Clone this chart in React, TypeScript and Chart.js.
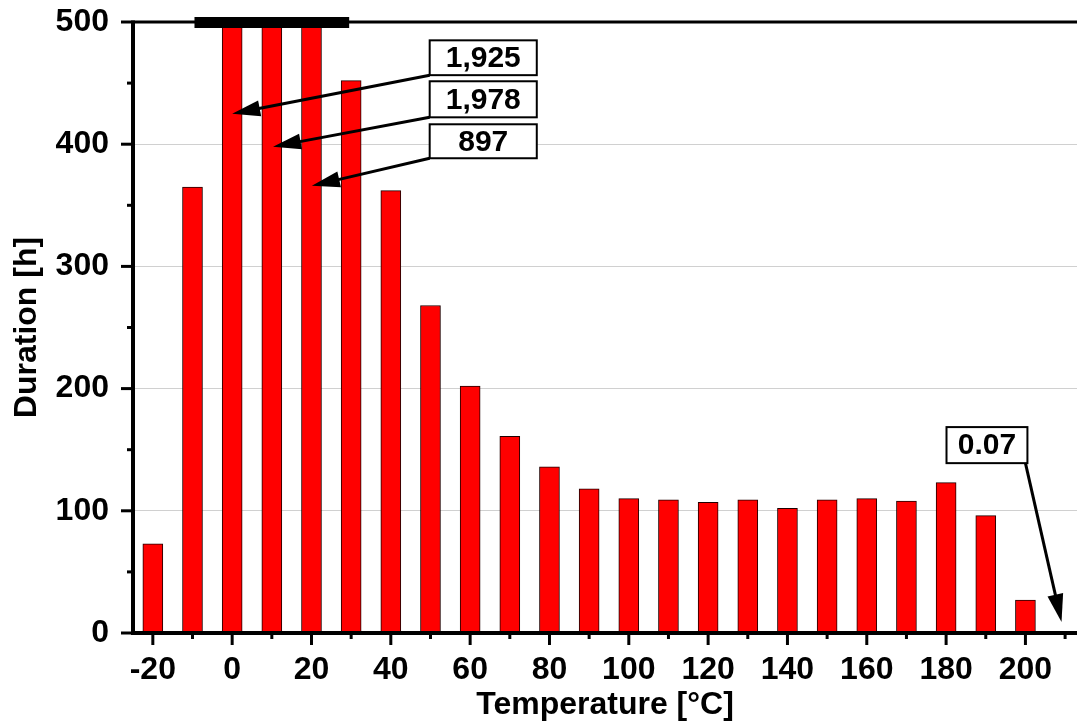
import React, { useEffect, useRef } from 'react';
import { Chart, registerables } from 'chart.js';

Chart.register(...registerables);

// ---- data ----
const temperatures = [-20, -10, 0, 10, 20, 30, 40, 50, 60, 70, 80, 90, 100, 110, 120, 130, 140, 150, 160, 170, 180, 190, 200, 210];
const durations = [73, 365, 1925, 1978, 897, 452, 362, 268, 202, 161, 136, 118, 110, 109, 107, 109, 102, 109, 110, 108, 123, 96, 27, 0.07];

const xTickValues = [-20, 0, 20, 40, 60, 80, 100, 120, 140, 160, 180, 200];
const xMinorTicks = [-10, 10, 30, 50, 70, 90, 110, 130, 150, 170, 190, 210];
const yTickValues = [0, 100, 200, 300, 400, 500];
const yMinorTicks = [50, 150, 250, 350, 450];

const xMin = -25;
const xMax = 213;
const yMin = 0;
const yMax = 500;

// annotations: label text, target (temperature, duration) the arrow points to
const annotationLabels = ['1,925', '1,978', '897', '0.07'];
const annotationTargetX = [0, 10.3, 20.1, 209.1];
const annotationTargetY = [425, 398, 366, 9];
// box placement in data units (left, right, top, bottom) and arrow start corner
const annotationBoxes = [
  { x0: 49.8, x1: 76.8, y0: 485, y1: 456.5, sx: 49.8, sy: 456.5 },
  { x0: 49.8, x1: 76.8, y0: 451.5, y1: 422, sx: 49.8, sy: 422 },
  { x0: 49.8, x1: 76.8, y0: 416.3, y1: 388.5, sx: 49.8, sy: 388.5 },
  { x0: 180.1, x1: 200.5, y0: 168.5, y1: 139, sx: 200, sy: 139 },
];
// axis-break marker range on the top axis
const breakRange = [-9.5, 29.5];

const FONT = "'Liberation Sans', Arial, sans-serif";
const AXIS_FONT_SIZE = 32;

function drawArrow(ctx: CanvasRenderingContext2D, x1: number, y1: number, x2: number, y2: number) {
  const headLen = 28;
  const headHalf = 8;
  const dx = x2 - x1;
  const dy = y2 - y1;
  const len = Math.hypot(dx, dy);
  const ux = dx / len;
  const uy = dy / len;
  const bx = x2 - ux * headLen;
  const by = y2 - uy * headLen;
  ctx.beginPath();
  ctx.moveTo(x1, y1);
  ctx.lineTo(bx + ux * 2, by + uy * 2);
  ctx.lineWidth = 3;
  ctx.strokeStyle = '#000';
  ctx.stroke();
  ctx.beginPath();
  ctx.moveTo(x2, y2);
  ctx.lineTo(bx - uy * headHalf, by + ux * headHalf);
  ctx.lineTo(bx + uy * headHalf, by - ux * headHalf);
  ctx.closePath();
  ctx.fillStyle = '#000';
  ctx.fill();
}

const overlayPlugin = {
  id: 'overlay',
  afterDraw(chart: any) {
    const { ctx, chartArea: ca } = chart;
    const xs = chart.scales.x;
    const ys = chart.scales.y;
    ctx.save();
    ctx.strokeStyle = '#000';
    ctx.lineCap = 'butt';

    const yTop = ys.getPixelForValue(yMax);
    const yBot = ys.getPixelForValue(yMin);
    ctx.lineWidth = 3;
    ctx.beginPath();
    ctx.moveTo(ca.left, yTop);
    ctx.lineTo(chart.width, yTop);
    ctx.stroke();

    ctx.lineWidth = 3;
    yTickValues.forEach((v) => {
      const p = ys.getPixelForValue(v);
      ctx.beginPath();
      ctx.moveTo(ca.left - 12, p);
      ctx.lineTo(ca.left, p);
      ctx.stroke();
    });
    yMinorTicks.forEach((v) => {
      const p = ys.getPixelForValue(v);
      ctx.beginPath();
      ctx.moveTo(ca.left - 6, p);
      ctx.lineTo(ca.left, p);
      ctx.stroke();
    });
    xTickValues.forEach((v) => {
      const p = xs.getPixelForValue(v);
      ctx.beginPath();
      ctx.moveTo(p, yBot);
      ctx.lineTo(p, yBot + 12);
      ctx.stroke();
    });
    xMinorTicks.forEach((v) => {
      const p = xs.getPixelForValue(v);
      ctx.beginPath();
      ctx.moveTo(p, yBot);
      ctx.lineTo(p, yBot + 6);
      ctx.stroke();
    });

    ctx.lineWidth = 4;
    ctx.beginPath();
    ctx.moveTo(ca.left, yTop - 1.5);
    ctx.lineTo(ca.left, yBot + 2);
    ctx.stroke();
    ctx.beginPath();
    ctx.moveTo(ca.left - 2, yBot);
    ctx.lineTo(chart.width, yBot);
    ctx.stroke();

    const bx0 = xs.getPixelForValue(breakRange[0]);
    const bx1 = xs.getPixelForValue(breakRange[1]);
    ctx.fillStyle = '#000';
    ctx.fillRect(bx0, yTop - 5, bx1 - bx0, 11);

    annotationLabels.forEach((label, i) => {
      const b = annotationBoxes[i];
      const tx = xs.getPixelForValue(annotationTargetX[i]);
      const ty = ys.getPixelForValue(annotationTargetY[i]);
      const sx = xs.getPixelForValue(b.sx);
      const sy = ys.getPixelForValue(b.sy);
      drawArrow(ctx, sx, sy, tx, ty);
      const l = xs.getPixelForValue(b.x0);
      const r = xs.getPixelForValue(b.x1);
      const t = ys.getPixelForValue(b.y0);
      const bt = ys.getPixelForValue(b.y1);
      ctx.fillStyle = '#fff';
      ctx.fillRect(l, t, r - l, bt - t);
      ctx.lineWidth = 2;
      ctx.strokeStyle = '#000';
      ctx.strokeRect(l, t, r - l, bt - t);
      ctx.fillStyle = '#000';
      ctx.font = `bold 30px ${FONT}`;
      ctx.textAlign = 'center';
      ctx.textBaseline = 'middle';
      ctx.fillText(label, (l + r) / 2, (t + bt) / 2 + 1);
    });
    ctx.restore();
  },
};

export default function App() {
  const canvasRef = useRef<HTMLCanvasElement | null>(null);

  useEffect(() => {
    if (!canvasRef.current) return;
    const chart = new Chart(canvasRef.current, {
      type: 'bar',
      data: {
        datasets: [
          {
            data: temperatures.map((t, i) => ({ x: t, y: durations[i] })),
            backgroundColor: '#ff0000',
            borderColor: '#200000',
            borderWidth: 1,
            borderSkipped: false,
            barThickness: 20,
          },
        ],
      },
      options: {
        responsive: false,
        animation: false,
        devicePixelRatio: 1,
        layout: { padding: { top: 22, left: 0, right: 0, bottom: 0 } },
        plugins: {
          legend: { display: false },
          tooltip: { enabled: false },
        },
        scales: {
          x: {
            type: 'linear',
            offset: false,
            min: xMin,
            max: xMax,
            afterBuildTicks: (s: any) => {
              s.ticks = xTickValues.map((v) => ({ value: v }));
            },
            afterFit: (s: any) => {
              s.height = 92;
              s.paddingLeft = 0;
              s.paddingRight = 0;
            },
            grid: { display: false, drawTicks: false, offset: false },
            border: { display: false },
            ticks: {
              color: '#000',
              font: { family: FONT, size: AXIS_FONT_SIZE, weight: 'bold' },
              padding: 18,
              maxRotation: 0,
              autoSkip: false,
              callback: (v: any) => String(v),
            },
            title: {
              display: true,
              text: 'Temperature [°C]',
              color: '#000',
              font: { family: FONT, size: AXIS_FONT_SIZE, weight: 'bold' },
              padding: { top: 0, bottom: 1 },
            },
          },
          y: {
            type: 'linear',
            min: yMin,
            max: yMax,
            afterBuildTicks: (s: any) => {
              s.ticks = yTickValues.map((v) => ({ value: v }));
            },
            afterFit: (s: any) => {
              s.width = 133;
              s.paddingTop = 0;
              s.paddingBottom = 0;
            },
            grid: {
              drawTicks: false,
              lineWidth: 1,
              color: (c: any) =>
                c.tick && (c.tick.value === yMin || c.tick.value === yMax) ? 'rgba(0,0,0,0)' : '#d0d0d0',
            },
            border: { display: false },
            ticks: {
              color: '#000',
              font: { family: FONT, size: AXIS_FONT_SIZE, weight: 'bold' },
              padding: 24,
              callback: (v: any) => String(v),
            },
            title: {
              display: true,
              text: 'Duration [h]',
              color: '#000',
              font: { family: FONT, size: AXIS_FONT_SIZE, weight: 'bold' },
              padding: { top: 8, bottom: 0 },
            },
          },
        },
      },
      plugins: [overlayPlugin],
    });
    return () => chart.destroy();
  }, []);

  return (
    <div style={{ position: 'absolute', left: 0, top: 0, width: 1077, height: 725, background: '#fff' }}>
      <canvas ref={canvasRef} width={1077} height={725} />
    </div>
  );
}
